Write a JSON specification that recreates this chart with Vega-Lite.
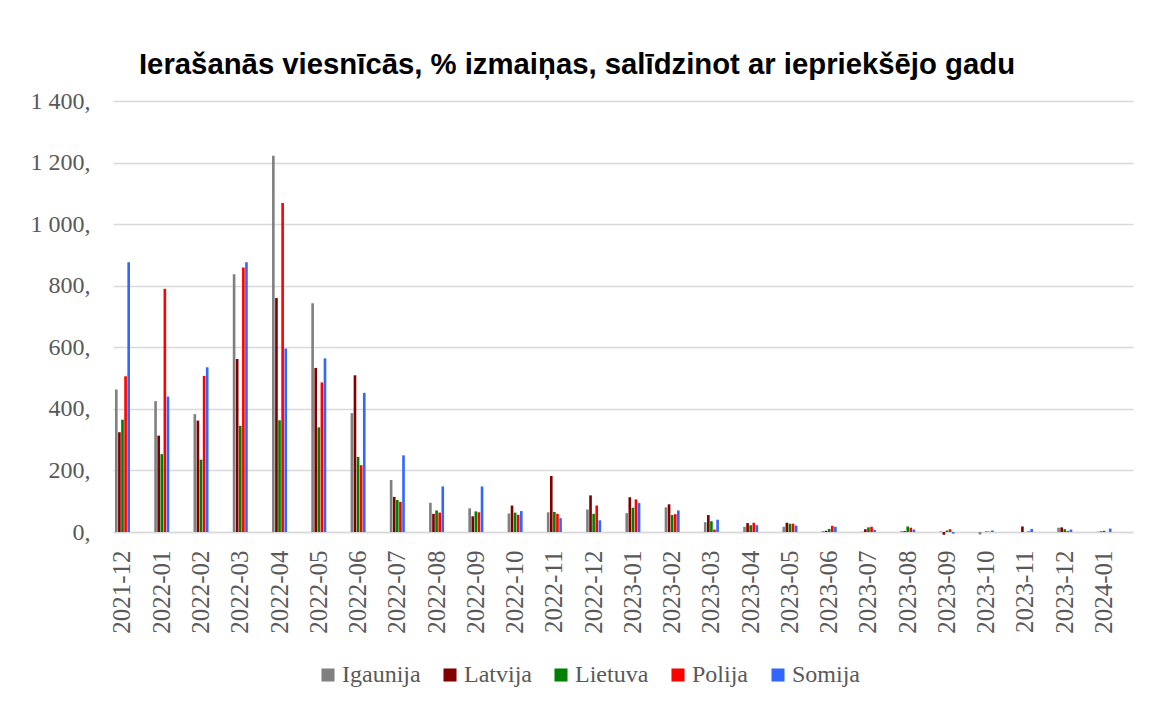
{
  "$schema": "https://vega.github.io/schema/vega-lite/v6.json",
  "width": 1020,
  "height": 431,
  "autosize": "none",
  "padding": {"left": 113, "top": 101, "right": 17, "bottom": 172},
  "background": "white",
  "title": {
    "text": "Ierašanās viesnīcās, % izmaiņas, salīdzinot ar iepriekšējo gadu",
    "font": "Liberation Sans",
    "fontSize": 29.3,
    "fontWeight": "bold",
    "color": "#000000",
    "anchor": "middle",
    "dx": -46,
    "offset": 9
  },
  "config": {
    "view": {"stroke": null},
    "axis": {"labelColor": "#595959", "labelFont": "Liberation Serif", "labelFontSize": 24}
  },
  "data": {
    "values": [
      {"month": "2021-12", "country": "Igaunija", "value": 463},
      {"month": "2021-12", "country": "Latvija", "value": 324},
      {"month": "2021-12", "country": "Lietuva", "value": 365},
      {"month": "2021-12", "country": "Polija", "value": 506},
      {"month": "2021-12", "country": "Somija", "value": 876},
      {"month": "2022-01", "country": "Igaunija", "value": 425},
      {"month": "2022-01", "country": "Latvija", "value": 313},
      {"month": "2022-01", "country": "Lietuva", "value": 253},
      {"month": "2022-01", "country": "Polija", "value": 790},
      {"month": "2022-01", "country": "Somija", "value": 440},
      {"month": "2022-02", "country": "Igaunija", "value": 383},
      {"month": "2022-02", "country": "Latvija", "value": 362},
      {"month": "2022-02", "country": "Lietuva", "value": 235},
      {"month": "2022-02", "country": "Polija", "value": 507},
      {"month": "2022-02", "country": "Somija", "value": 535},
      {"month": "2022-03", "country": "Igaunija", "value": 837},
      {"month": "2022-03", "country": "Latvija", "value": 562},
      {"month": "2022-03", "country": "Lietuva", "value": 345},
      {"month": "2022-03", "country": "Polija", "value": 859},
      {"month": "2022-03", "country": "Somija", "value": 876},
      {"month": "2022-04", "country": "Igaunija", "value": 1222},
      {"month": "2022-04", "country": "Latvija", "value": 760},
      {"month": "2022-04", "country": "Lietuva", "value": 363},
      {"month": "2022-04", "country": "Polija", "value": 1069},
      {"month": "2022-04", "country": "Somija", "value": 596},
      {"month": "2022-05", "country": "Igaunija", "value": 743},
      {"month": "2022-05", "country": "Latvija", "value": 533},
      {"month": "2022-05", "country": "Lietuva", "value": 340},
      {"month": "2022-05", "country": "Polija", "value": 486},
      {"month": "2022-05", "country": "Somija", "value": 564},
      {"month": "2022-06", "country": "Igaunija", "value": 386},
      {"month": "2022-06", "country": "Latvija", "value": 509},
      {"month": "2022-06", "country": "Lietuva", "value": 244},
      {"month": "2022-06", "country": "Polija", "value": 217},
      {"month": "2022-06", "country": "Somija", "value": 452},
      {"month": "2022-07", "country": "Igaunija", "value": 169},
      {"month": "2022-07", "country": "Latvija", "value": 114},
      {"month": "2022-07", "country": "Lietuva", "value": 104},
      {"month": "2022-07", "country": "Polija", "value": 98},
      {"month": "2022-07", "country": "Somija", "value": 249},
      {"month": "2022-08", "country": "Igaunija", "value": 95},
      {"month": "2022-08", "country": "Latvija", "value": 59},
      {"month": "2022-08", "country": "Lietuva", "value": 70},
      {"month": "2022-08", "country": "Polija", "value": 63},
      {"month": "2022-08", "country": "Somija", "value": 148},
      {"month": "2022-09", "country": "Igaunija", "value": 77},
      {"month": "2022-09", "country": "Latvija", "value": 51},
      {"month": "2022-09", "country": "Lietuva", "value": 67},
      {"month": "2022-09", "country": "Polija", "value": 64},
      {"month": "2022-09", "country": "Somija", "value": 148},
      {"month": "2022-10", "country": "Igaunija", "value": 60},
      {"month": "2022-10", "country": "Latvija", "value": 86},
      {"month": "2022-10", "country": "Lietuva", "value": 63},
      {"month": "2022-10", "country": "Polija", "value": 56},
      {"month": "2022-10", "country": "Somija", "value": 68},
      {"month": "2022-11", "country": "Igaunija", "value": 64},
      {"month": "2022-11", "country": "Latvija", "value": 182},
      {"month": "2022-11", "country": "Lietuva", "value": 65},
      {"month": "2022-11", "country": "Polija", "value": 59},
      {"month": "2022-11", "country": "Somija", "value": 45},
      {"month": "2022-12", "country": "Igaunija", "value": 73},
      {"month": "2022-12", "country": "Latvija", "value": 119},
      {"month": "2022-12", "country": "Lietuva", "value": 59},
      {"month": "2022-12", "country": "Polija", "value": 86},
      {"month": "2022-12", "country": "Somija", "value": 38},
      {"month": "2023-01", "country": "Igaunija", "value": 61},
      {"month": "2023-01", "country": "Latvija", "value": 113},
      {"month": "2023-01", "country": "Lietuva", "value": 79},
      {"month": "2023-01", "country": "Polija", "value": 106},
      {"month": "2023-01", "country": "Somija", "value": 94},
      {"month": "2023-02", "country": "Igaunija", "value": 80},
      {"month": "2023-02", "country": "Latvija", "value": 90},
      {"month": "2023-02", "country": "Lietuva", "value": 55},
      {"month": "2023-02", "country": "Polija", "value": 58},
      {"month": "2023-02", "country": "Somija", "value": 70},
      {"month": "2023-03", "country": "Igaunija", "value": 32},
      {"month": "2023-03", "country": "Latvija", "value": 55},
      {"month": "2023-03", "country": "Lietuva", "value": 35},
      {"month": "2023-03", "country": "Polija", "value": 8},
      {"month": "2023-03", "country": "Somija", "value": 40},
      {"month": "2023-04", "country": "Igaunija", "value": 17},
      {"month": "2023-04", "country": "Latvija", "value": 29},
      {"month": "2023-04", "country": "Lietuva", "value": 22},
      {"month": "2023-04", "country": "Polija", "value": 30},
      {"month": "2023-04", "country": "Somija", "value": 22},
      {"month": "2023-05", "country": "Igaunija", "value": 17},
      {"month": "2023-05", "country": "Latvija", "value": 30},
      {"month": "2023-05", "country": "Lietuva", "value": 27},
      {"month": "2023-05", "country": "Polija", "value": 27},
      {"month": "2023-05", "country": "Somija", "value": 21},
      {"month": "2023-06", "country": "Igaunija", "value": 3},
      {"month": "2023-06", "country": "Latvija", "value": 4},
      {"month": "2023-06", "country": "Lietuva", "value": 10},
      {"month": "2023-06", "country": "Polija", "value": 20},
      {"month": "2023-06", "country": "Somija", "value": 17},
      {"month": "2023-07", "country": "Igaunija", "value": 1},
      {"month": "2023-07", "country": "Latvija", "value": 9},
      {"month": "2023-07", "country": "Lietuva", "value": 15},
      {"month": "2023-07", "country": "Polija", "value": 17},
      {"month": "2023-07", "country": "Somija", "value": 7},
      {"month": "2023-08", "country": "Igaunija", "value": 3},
      {"month": "2023-08", "country": "Latvija", "value": 3},
      {"month": "2023-08", "country": "Lietuva", "value": 18},
      {"month": "2023-08", "country": "Polija", "value": 14},
      {"month": "2023-08", "country": "Somija", "value": 8},
      {"month": "2023-09", "country": "Igaunija", "value": 2},
      {"month": "2023-09", "country": "Latvija", "value": -9},
      {"month": "2023-09", "country": "Lietuva", "value": 5},
      {"month": "2023-09", "country": "Polija", "value": 9},
      {"month": "2023-09", "country": "Somija", "value": -5},
      {"month": "2023-10", "country": "Igaunija", "value": -8},
      {"month": "2023-10", "country": "Latvija", "value": 0},
      {"month": "2023-10", "country": "Lietuva", "value": 2},
      {"month": "2023-10", "country": "Polija", "value": 1},
      {"month": "2023-10", "country": "Somija", "value": 5},
      {"month": "2023-11", "country": "Igaunija", "value": 0},
      {"month": "2023-11", "country": "Latvija", "value": 18},
      {"month": "2023-11", "country": "Lietuva", "value": 0},
      {"month": "2023-11", "country": "Polija", "value": 2},
      {"month": "2023-11", "country": "Somija", "value": 10},
      {"month": "2023-12", "country": "Igaunija", "value": 14},
      {"month": "2023-12", "country": "Latvija", "value": 15},
      {"month": "2023-12", "country": "Lietuva", "value": 9},
      {"month": "2023-12", "country": "Polija", "value": 3},
      {"month": "2023-12", "country": "Somija", "value": 8},
      {"month": "2024-01", "country": "Igaunija", "value": 1},
      {"month": "2024-01", "country": "Latvija", "value": 2},
      {"month": "2024-01", "country": "Lietuva", "value": 4},
      {"month": "2024-01", "country": "Polija", "value": 0},
      {"month": "2024-01", "country": "Somija", "value": 11}
    ]
  },
  "mark": {"type": "bar", "clip": false},
  "encoding": {
    "x": {
      "field": "month",
      "type": "ordinal",
      "scale": {"paddingInner": 0.618, "paddingOuter": 0.299, "align": 0.085},
      "axis": {
        "title": null,
        "labelAngle": -90,
        "labelPadding": 18,
        "labelFontSize": 25,
        "ticks": false,
        "domainColor": "#d9d9d9",
        "domainWidth": 1.6,
        "grid": false
      }
    },
    "xOffset": {
      "field": "country",
      "type": "nominal",
      "scale": {"paddingInner": 0.15, "paddingOuter": 0}
    },
    "y": {
      "field": "value",
      "type": "quantitative",
      "scale": {"domain": [0, 1400], "nice": false},
      "axis": {
        "title": null,
        "values": [0, 200, 400, 600, 800, 1000, 1200, 1400],
        "labelExpr": "replace(format(datum.value, ','), ',', ' ') + ','",
        "ticks": false,
        "domain": false,
        "labelPadding": 23,
        "gridColor": "#d9d9d9",
        "gridWidth": 1.3
      }
    },
    "color": {
      "field": "country",
      "type": "nominal",
      "scale": {
        "domain": ["Igaunija", "Latvija", "Lietuva", "Polija", "Somija"],
        "range": ["#808080", "#800000", "#008000", "#ff0000", "#3366ff"]
      },
      "legend": {
        "title": null,
        "orient": "none",
        "direction": "horizontal",
        "legendX": 203,
        "legendY": 562,
        "padding": 0,
        "symbolType": "square",
        "symbolSize": 170,
        "symbolStrokeWidth": 0,
        "symbolOpacity": 1,
        "labelFont": "Liberation Serif",
        "labelFontSize": 24,
        "labelColor": "#595959",
        "columnPadding": 17,
        "labelOffset": 2
      }
    }
  }
}
